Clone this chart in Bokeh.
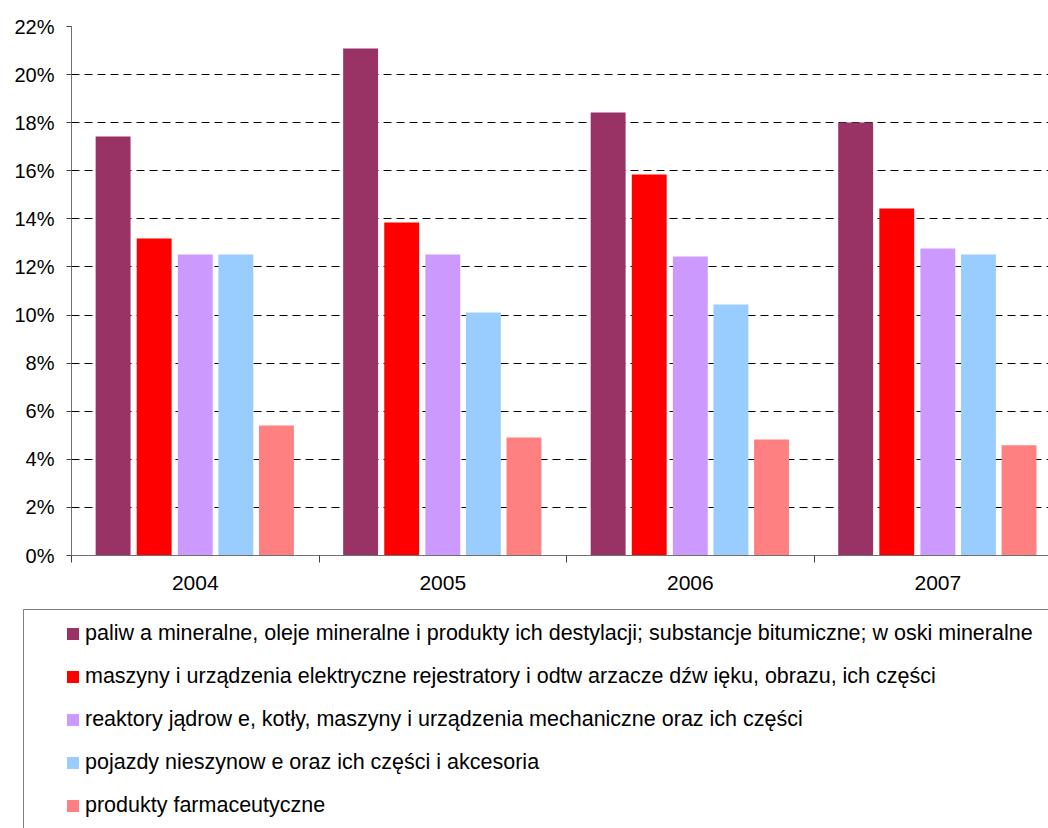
from bokeh.plotting import figure
from bokeh.models import (ColumnDataSource, FixedTicker, PrintfTickFormatter, Range1d,
                          Legend, LegendItem, LinearAxis)
from bokeh.transform import dodge
from bokeh.layouts import column
from bokeh.embed import file_html
from bokeh.resources import INLINE

years = ["2004", "2005", "2006", "2007"]
paliwa = [17.43, 21.09, 18.42, 18.01]
maszyny_el = [13.18, 13.85, 15.85, 14.43]
reaktory = [12.52, 12.52, 12.43, 12.77]
pojazdy = [12.52, 10.11, 10.44, 12.52]
farmacja = [5.41, 4.91, 4.82, 4.59]

labels = [
    "paliw a mineralne, oleje mineralne i produkty ich destylacji; substancje bitumiczne; w oski mineralne",
    "maszyny i urządzenia elektryczne rejestratory i odtw arzacze dźw ięku, obrazu, ich części",
    "reaktory jądrow e, kotły, maszyny i urządzenia mechaniczne oraz ich części",
    "pojazdy nieszynow e oraz ich części i akcesoria",
    "produkty farmaceutyczne",
]
colors = ["#993366", "#FF0000", "#CC99FF", "#99CCFF", "#FF8080"]
series_keys = ["paliwa", "maszyny_el", "reaktory", "pojazdy", "farmacja"]

xc = [i + 0.5 for i in range(len(years))]
source = ColumnDataSource(dict(x=xc, paliwa=paliwa, maszyny_el=maszyny_el,
                               reaktory=reaktory, pojazdy=pojazdy, farmacja=farmacja))

FONT = "Liberation Sans"

p = figure(width=1048, height=609, output_backend="svg", toolbar_location=None,
           x_range=Range1d(0, 3.947), y_range=Range1d(0, 22),
           min_border_left=71, min_border_right=0, min_border_top=26, min_border_bottom=54)
p.frame_align = False
p.outline_line_color = None
p.background_fill_color = "white"

offsets = [-0.332, -0.166, 0.0, 0.164, 0.328]
for key, off, col in zip(series_keys, offsets, colors):
    p.vbar(x=dodge("x", off, range=p.x_range), top=key, width=0.141, source=source,
           fill_color=col, line_color=None)

# y axis
p.yaxis.ticker = FixedTicker(ticks=list(range(0, 23, 2)))
p.yaxis.formatter = PrintfTickFormatter(format="%d%%")
p.yaxis.major_label_text_font = FONT
p.yaxis.major_label_text_font_size = "20px"
p.yaxis.major_label_text_color = "black"
p.yaxis.major_tick_out = 5
p.yaxis.major_tick_in = 0
p.yaxis.minor_tick_line_color = None
p.yaxis.major_label_standoff = 12
p.yaxis.axis_line_color = "#707070"
p.yaxis.major_tick_line_color = "#404040"

# x axis
p.xaxis.ticker = FixedTicker(ticks=xc, minor_ticks=[0, 1, 2, 3, 4])
p.xaxis.major_label_overrides = {x: y for x, y in zip(xc, years)}
p.xaxis.major_label_text_font = FONT
p.xaxis.major_label_text_font_size = "21px"
p.xaxis.major_label_text_color = "black"
p.xaxis.major_tick_line_color = None
p.xaxis.major_tick_out = 7
p.xaxis.minor_tick_out = 7
p.xaxis.minor_tick_in = 0
p.xaxis.minor_tick_line_color = "#404040"
p.xaxis.major_label_standoff = 13
p.xaxis.axis_line_color = "#707070"

p.xgrid.grid_line_color = None
p.ygrid.grid_line_color = "black"
p.ygrid.grid_line_dash = "8 5"
p.ygrid.grid_line_width = 1

# legend figure
q = figure(width=1048, height=219, output_backend="svg", toolbar_location=None,
           x_axis_location=None, y_axis_location=None,
           x_range=Range1d(100, 101), y_range=Range1d(100, 101),
           min_border_left=23, min_border_right=0, min_border_top=0, min_border_bottom=0)
q.frame_align = False
q.outline_line_color = None
q.xgrid.grid_line_color = None
q.ygrid.grid_line_color = None
for side in ("above", "left"):
    ax = LinearAxis(ticker=FixedTicker(ticks=[]), major_tick_out=0, major_tick_in=0,
                    minor_tick_out=0, minor_tick_in=0, major_label_text_font_size="0px",
                    major_label_standoff=0, axis_line_color="#808080")
    q.add_layout(ax, side)

items = []
for key, lab, col in zip(series_keys, labels, colors):
    r = q.vbar(x="x", top=key, width=0.1, source=source, fill_color=col, line_color=None)
    items.append(LegendItem(label=lab, renderers=[r]))

leg = Legend(items=items, location=(42, 10), orientation="vertical",
             label_text_font=FONT, label_text_font_size="21.5px", label_text_color="black",
             glyph_width=15, glyph_height=15, label_standoff=5, label_height=20,
             spacing=18, padding=0, margin=0, border_line_color=None,
             background_fill_alpha=0)
q.add_layout(leg)

layout = column(p, q, spacing=0)
open("out.html", "w").write(file_html(layout, INLINE))
